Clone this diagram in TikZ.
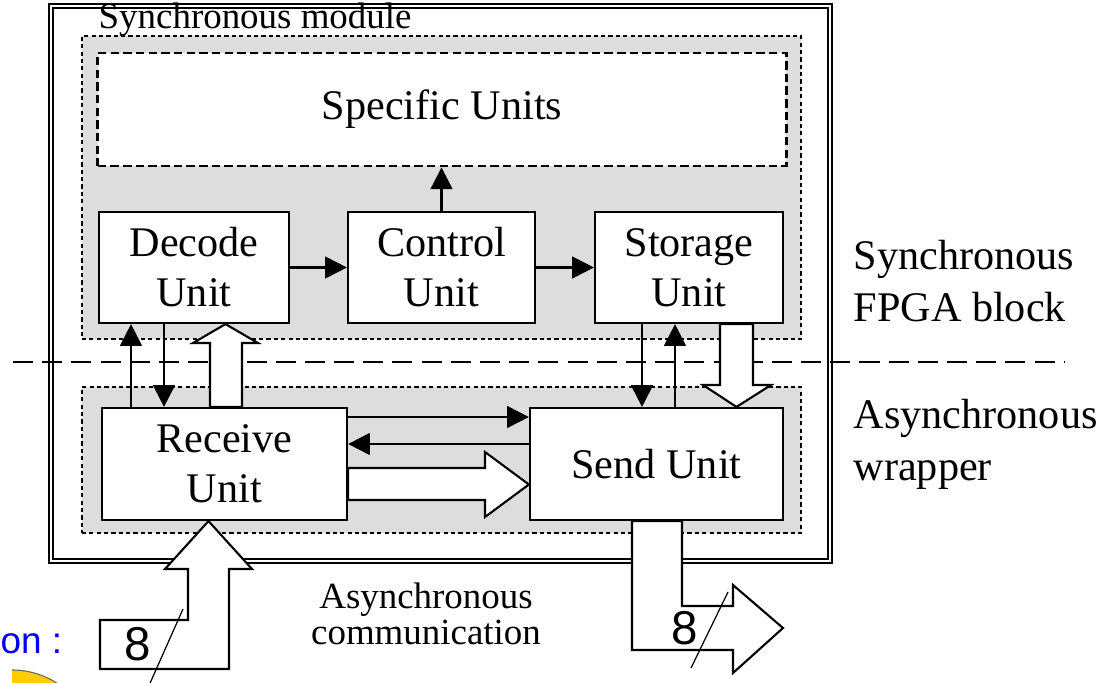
\documentclass[tikz,border=0pt]{standalone}
\usepackage{fontspec}
\setmainfont{Liberation Serif}
\newfontfamily\arialfont{Liberation Sans}
\usepackage{tikz}
\usetikzlibrary{shapes,arrows.meta}
\usetikzlibrary{positioning}
\usetikzlibrary{calc}
\tikzstyle{line} = [draw, line width=0.6pt, -{Triangle[length=6.2pt,width=6.2pt]}]
\definecolor{wrapgray}{RGB}{221,221,221}
\definecolor{padyellow}{RGB}{255,204,0}

\begin{document}
\begin{tikzpicture}[x=0.01cm, y=-0.01cm,
	box/.style={draw, rectangle, fill=white, line width=0.6pt,
		minimum height=1.11cm, inner sep=0pt, align=center,
		font=\fontsize{12}{14.2}\selectfont},
	panel/.style={draw, rectangle, fill=wrapgray, line width=0.5pt,
		dash pattern=on 1.2pt off 0.9pt, inner sep=0pt},
	fat/.style={draw, fill=white, line width=0.6pt},
	lbl/.style={inner sep=0pt, align=left, anchor=west,
		font=\fontsize{12}{14.8}\selectfont}]
	\clip (0,0) rectangle (1101,682);
	\fill [white] (0,0) rectangle (1101,682);
	%% Frame and wrapper areas
	\draw [double, double distance=0.7pt, line width=0.45pt] (51,6) rectangle (830,561);
	\node [panel, minimum width=7.19cm, minimum height=3.03cm] at (441.5,187.5) (SyncPart) {};
	\node [panel, minimum width=7.19cm, minimum height=1.46cm] at (441.5,460) (AsyncPart) {};
	\coordinate (SepL) at (13,362);
	\coordinate (SepR) at (1064,362);
	\draw [line width=0.6pt, dash pattern=on 5.7pt off 2.6pt] (SepL) -- (SepR);
	%% Units
	\node [box, minimum width=6.88cm, minimum height=1.13cm, line width=0.8pt,
		dash pattern=on 2.4pt off 1.2pt] at (442,109.5) (Spec) {Specific Units};
	\node [box, minimum width=1.9cm] at (194,267.5) (Dec) {Decode\\Unit};
	\node [box, minimum width=1.87cm] at (441.5,267.5) (Ctl) {Control\\Unit};
	\node [box, minimum width=1.88cm] at (689,267.5) (Sto) {Storage\\Unit};
	\node [box, minimum width=2.45cm, minimum height=1.12cm] at (224.5,464) (Rcv) {Receive\\Unit};
	\node [box, minimum width=2.53cm, minimum height=1.12cm] at (656.5,464) (Snd) {Send Unit};
	%% Signals
	\path [line] (Dec) to (Ctl);
	\path [line] (Ctl) to (Sto);
	\path [line] (Ctl.north) to (Ctl.north |- Spec.south);
	\path [line] (131,0 |- Rcv.north) to (131,0 |- Dec.south);
	\path [line] (164,0 |- Dec.south) to (164,0 |- Rcv.north);
	\path [line] (642,0 |- Sto.south) to (642,0 |- Snd.north);
	\path [line] (675,0 |- Snd.north) to (675,0 |- Sto.south);
	\path [line] (Rcv.east |- 0,417) to (Snd.west |- 0,417);
	\path [line] (Snd.west |- 0,444) to (Rcv.east |- 0,444);
	%% Data buses
	\draw [fat] (210,0 |- Rcv.north) -- (210,343) -- (193,343) -- (225.5,0 |- Dec.south)
		-- (258,343) -- (242,343) -- (242,0 |- Rcv.north) -- cycle;
	\draw [fat] (720,0 |- Sto.south) -- (720,385) -- (703,385) -- (736.5,0 |- Snd.north)
		-- (771,385) -- (753,385) -- (753,0 |- Sto.south) -- cycle;
	\draw [fat] (Rcv.east |- 0,468) -- (485,468) -- (485,452) -- (Snd.west |- 0,484.5)
		-- (485,517) -- (485,500) -- (Rcv.east |- 0,500) -- cycle;
	\draw [fat] (229,669) -- (229,569) -- (252,569) -- (208.5,0 |- Rcv.south)
		-- (165,569) -- (188,569) -- (188,620) -- (100,620) -- (100,669) -- cycle;
	\draw [fat] (632,0 |- Snd.south) -- (682,0 |- Snd.south) -- (682,606) -- (733,606)
		-- (733,585) -- (783,628) -- (733,673) -- (733,650) -- (632,650) -- cycle;
	\node [font=\arialfont\fontsize{13.5}{16}\selectfont, inner sep=0pt] at (138,644) (InWidth) {8};
	\node [font=\arialfont\fontsize{13.5}{16}\selectfont, inner sep=0pt] at (685,628) (OutWidth) {8};
	\draw [line width=0.35pt] (183,609) -- (147,690);
	\draw [line width=0.35pt] (728,592) -- (691,668);
	%% Labels
	\node [font=\fontsize{10.5}{12}\selectfont, anchor=base west, inner sep=0pt]
		at (98,29) (ModTitle) {Synchronous module};
	\node [lbl] at (853,281) (SyncLbl) {Synchronous\\FPGA block};
	\node [lbl] at (853,444) (AsyncLbl) {Asynchronous\\wrapper};
	\node [font=\fontsize{10.5}{9}\selectfont, align=center, inner sep=0pt]
		at (426,613.4) (CommLbl) {\lineskiplimit=-20pt\relax Asynchronous\\communication};
	\node [font=\arialfont\fontsize{10.5}{13}\selectfont, text=blue, anchor=base west, inner sep=0pt]
		at (0,653) (Legend) {on :};
	\begin{scope}
		\clip (12,600) rectangle (200,700);
		\filldraw [fill=padyellow, draw=black!60, line width=0.3pt] (12,753) circle [radius=8.3mm];
	\end{scope}
\end{tikzpicture}
\end{document}
